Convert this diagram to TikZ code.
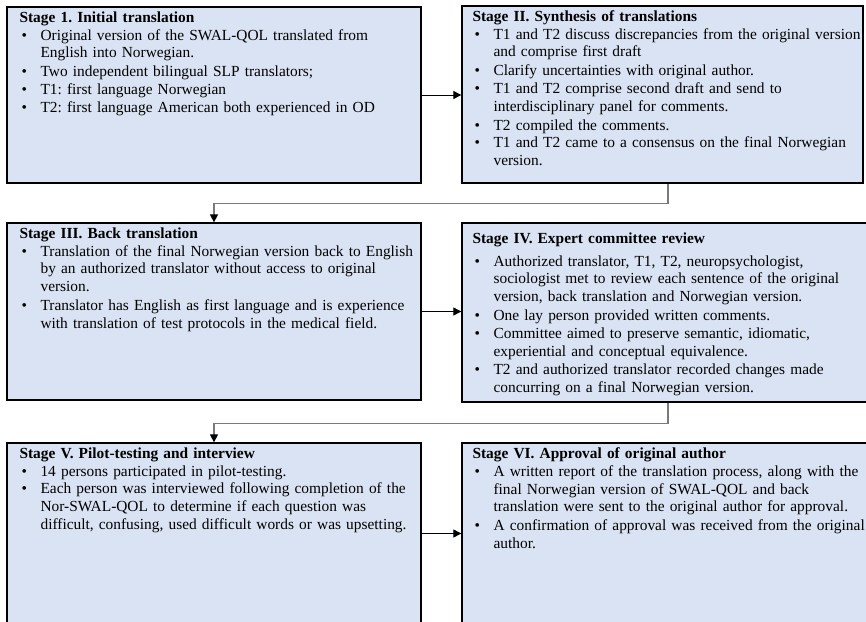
\documentclass[tikz,border=0pt]{standalone}
\usepackage{fontspec}
\setmainfont{Liberation Serif}
\usetikzlibrary{arrows.meta}
\definecolor{boxfill}{HTML}{DAE3F3}
\definecolor{elbowgray}{HTML}{7A7A7A}
\frenchspacing
\newcommand\bitem[1]{\par\noindent\makebox[21pt][l]{\hspace{2pt}\textbullet}\parbox[t]{400pt}{\raggedright\strut #1\strut}}
\tikzset{
  stagebox/.style={draw=black, line width=1.3pt, fill=boxfill, inner sep=0pt},
  stagetext/.style={anchor=north west, inner sep=0pt, text width=425pt, align=left,
    font=\fontsize{15.4}{17.8}\selectfont\frenchspacing},
  harrow/.style={draw=black, line width=0.9pt, -{Triangle[length=8pt,width=8pt]}},
  elbow/.style={draw=elbowgray, line width=1.4pt, -{Triangle[length=8pt,width=8pt,color=black]}}
}
\begin{document}
\begin{tikzpicture}[x=1pt,y=-1pt]
\clip (0,0) rectangle (866,621);
\fill[white] (0,0) rectangle (866,621);
% boxes
\node[stagebox, minimum width=414pt, minimum height=176pt] (b1) at (214,95) {};
\node[stagebox, minimum width=401pt, minimum height=177pt] (b2) at (662.5,94.5) {};
\node[stagebox, minimum width=414pt, minimum height=177pt] (b3) at (214,311.5) {};
\node[stagebox, minimum width=412pt, minimum height=179pt] (b4) at (668,312.5) {};
\node[stagebox, minimum width=414pt, minimum height=181pt] (b5) at (214,533.5) {};
\node[stagebox, minimum width=412pt, minimum height=181pt] (b6) at (668,533.5) {};
\coordinate (colR) at (668,0);
% texts
\node[stagetext] (t1) at ([xshift=13pt,yshift=-5pt]b1.north west) {\textbf{Stage 1. Initial translation}
\bitem{Original version of the SWAL-QOL translated from\\English into Norwegian.}
\bitem{Two independent bilingual SLP translators;}
\bitem{T1: first language Norwegian}
\bitem{T2: first language American both experienced in OD}};
\node[stagetext] (t2) at ([xshift=11pt,yshift=-5pt]b2.north west) {\textbf{Stage II. Synthesis of translations}
\bitem{T1 and T2 discuss discrepancies from the original version\\and comprise first draft}
\bitem{Clarify uncertainties with original author.}
\bitem{T1 and T2 comprise second draft and send to\\interdisciplinary panel for comments.}
\bitem{T2 compiled the comments.}
\bitem{T1 and T2 came to a consensus on the final Norwegian\\version.}};
\node[stagetext] (t3) at ([xshift=13pt,yshift=-5pt]b3.north west) {\textbf{Stage III. Back translation}
\bitem{Translation of the final Norwegian version back to English\\by an authorized translator without access to original\\version.}
\bitem{Translator has English as first language and is experience\\with translation of test protocols in the medical field.}};
\node[stagetext] (t4) at ([xshift=11pt,yshift=-10pt]b4.north west) {\textbf{Stage IV. Expert committee review}\par\vspace{5pt}
\bitem{Authorized translator, T1, T2, neuropsychologist,\\sociologist met to review each sentence of the original\\version, back translation and Norwegian version.}
\bitem{One lay person provided written comments.}
\bitem{Committee aimed to preserve semantic, idiomatic,\\experiential and conceptual equivalence.}
\bitem{T2 and authorized translator recorded changes made\\concurring on a final Norwegian version.}};
\node[stagetext] (t5) at ([xshift=13pt,yshift=-5pt]b5.north west) {\textbf{Stage V. Pilot-testing and interview}
\bitem{14 persons participated in pilot-testing.}
\bitem{Each person was interviewed following completion of the\\Nor-SWAL-QOL to determine if each question was\\difficult, confusing, used difficult words or was upsetting.}};
\node[stagetext] (t6) at ([xshift=11pt,yshift=-5pt]b6.north west) {\textbf{Stage VI. Approval of original author}
\bitem{A written report of the translation process, along with the\\final Norwegian version of SWAL-QOL and back\\translation were sent to the original author for approval.}
\bitem{A confirmation of approval was received from the original\\author.}};
% connectors
\draw[harrow] (b1.east) -- (b1.east -| b2.west);
\draw[harrow] (b3.east) -- (b3.east -| b4.west);
\draw[harrow] (b5.east) -- (b5.east -| b6.west);
\draw[elbow] (b2.south -| colR) -- ++(0,20) -| (b3.north);
\draw[elbow] (b4.south) -- ++(0,21) -| (b5.north);
\end{tikzpicture}
\end{document}
